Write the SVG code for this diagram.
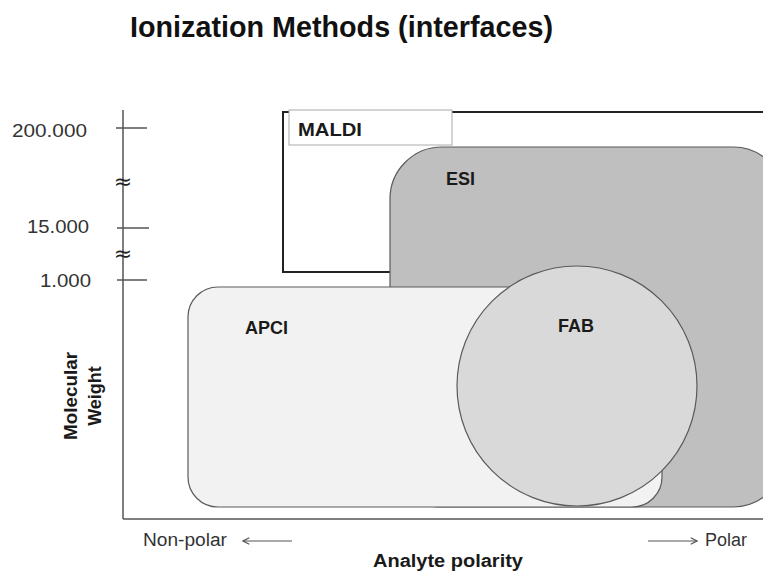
<svg xmlns="http://www.w3.org/2000/svg" width="763" height="572" viewBox="0 0 763 572">
<style>
.lbl{font-family:"Liberation Sans",Arial,sans-serif;font-weight:bold;font-size:18px;fill:#1a1a1a}
.num{font-family:"Liberation Sans",Arial,sans-serif;font-size:18px;fill:#333}
.ax{stroke:#555;stroke-width:1.5;fill:none}
.shape{stroke:#5a5a5a;stroke-width:1.2}
.brk{font-family:"DejaVu Sans",sans-serif;font-size:22px;fill:#222}
</style>
<defs>
<marker id="arr" viewBox="0 0 10 10" refX="9" refY="5" markerWidth="9" markerHeight="9" orient="auto-start-reverse" markerUnits="userSpaceOnUse">
<path d="M2,1.5 L9,5 L2,8.5" fill="none" stroke="#555" stroke-width="1.3"/>
</marker>
</defs>
<rect width="763" height="572" fill="#fff"/>
<text x="130" y="37" font-family="'Liberation Sans',Arial,sans-serif" font-weight="bold" font-size="29" fill="#111" textLength="423" lengthAdjust="spacingAndGlyphs">Ionization Methods (interfaces)</text>

<g id="axes">
<line class="ax" x1="123" y1="110" x2="123" y2="519"/>
<line class="ax" x1="123" y1="519" x2="763" y2="519"/>
<line class="ax" x1="116" y1="128" x2="147" y2="128"/>
<line class="ax" x1="117" y1="228" x2="149" y2="228"/>
<line class="ax" x1="117" y1="280" x2="147" y2="280"/>
<text class="num" x="12" y="137" textLength="75" lengthAdjust="spacingAndGlyphs">200.000</text>
<text class="num" x="27" y="233" textLength="62" lengthAdjust="spacingAndGlyphs">15.000</text>
<text class="num" x="40" y="287" textLength="51" lengthAdjust="spacingAndGlyphs">1.000</text>
<text class="brk" x="123" y="189" text-anchor="middle">≈</text>
<text class="brk" x="123" y="261" text-anchor="middle">≈</text>
</g>

<g id="maldi">
<rect x="283" y="112" width="482" height="160" fill="#fff" stroke="#222" stroke-width="2"/>
<rect x="289" y="110" width="163" height="35" fill="#fff" stroke="#aaa" stroke-width="1"/>
<text class="lbl" x="298" y="136" textLength="64" lengthAdjust="spacingAndGlyphs">MALDI</text>
</g>

<g id="esi">
<rect class="shape" x="390" y="147" width="395" height="360" rx="52" ry="52" fill="#bfbfbf"/>
<text class="lbl" x="446" y="185">ESI</text>
</g>

<g id="apci">
<rect class="shape" x="188" y="287" width="474" height="220" rx="30" ry="30" fill="#f2f2f2"/>
<text class="lbl" x="245" y="334">APCI</text>
</g>

<g id="fab">
<circle class="shape" cx="577" cy="386" r="120" fill="#d9d9d9"/>
<text class="lbl" x="558" y="332">FAB</text>
</g>

<g id="connectors">
<line x1="292" y1="541" x2="243" y2="541" stroke="#555" stroke-width="1.2" marker-end="url(#arr)"/>
<line x1="648" y1="541" x2="697" y2="541" stroke="#555" stroke-width="1.2" marker-end="url(#arr)"/>
</g>

<g id="labels">
<text class="num" x="143" y="546" textLength="84" lengthAdjust="spacingAndGlyphs">Non-polar</text>
<text class="num" x="705" y="546" textLength="42" lengthAdjust="spacingAndGlyphs">Polar</text>
<text class="lbl" x="373" y="567" font-size="19" textLength="150" lengthAdjust="spacingAndGlyphs">Analyte polarity</text>
<text class="lbl" transform="translate(77,396) rotate(-90)" text-anchor="middle" textLength="88" lengthAdjust="spacingAndGlyphs">Molecular</text>
<text class="lbl" transform="translate(101,396) rotate(-90)" text-anchor="middle">Weight</text>
</g>
</svg>
